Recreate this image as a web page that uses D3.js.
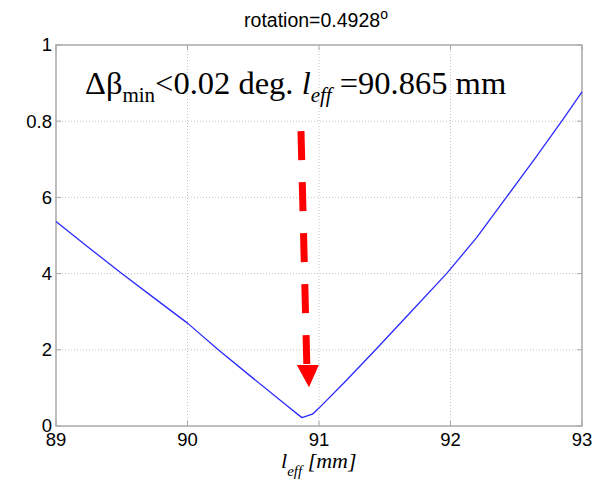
<!doctype html>
<html lang="en">
<head>
<meta charset="utf-8">
<script src="https://cdn.jsdelivr.net/npm/d3@7"></script>
<style>
  body { margin: 0; background: #fff; }
  .grid line { stroke: #c4c4c4; stroke-width: 1; stroke-dasharray: 1,2; }
  .frame { fill: none; stroke: #a8a8a8; stroke-width: 1.5; }
  .tick-lbl { font-family: "Liberation Sans", Arial, sans-serif; font-size: 18.5px; fill: #000; }
</style>
</head>
<body>
<svg width="602" height="480"></svg>
<script>
// l_eff in mm vs. residual (axis 0..1)
const leff = [89.0, 89.25, 89.5, 89.75, 90.0, 90.234, 90.5, 90.75, 90.87, 90.95, 91.0, 91.2, 91.43, 91.7, 91.97, 92.2, 92.42, 92.65, 92.85, 93.0];
const resid = [0.537, 0.468, 0.40, 0.335, 0.27, 0.20, 0.125, 0.055, 0.022, 0.031, 0.047, 0.117, 0.20, 0.30, 0.40, 0.495, 0.598, 0.706, 0.802, 0.877];

const xTicks = [89, 90, 91, 92, 93];
const yTicks = [0, 0.2, 0.4, 0.6, 0.8, 1];
const yTickLabels = ["0", "2", "4", "6", "0.8", "1"];

// arrow annotation (data coordinates)
const arrowX = [90.863, 90.915, 90.924];   // tail, head base, tip
const arrowY = [0.774, 0.16, 0.102];

const margin = {top: 45, left: 56, right: 20, bottom: 54};
const W = 602, H = 480;
const w = W - margin.left - margin.right;
const h = H - margin.top - margin.bottom;

const svg = d3.select("svg");
const g = svg.append("g").attr("transform", `translate(${margin.left},${margin.top})`);

const x = d3.scaleLinear().domain([89, 93]).range([0, w]);
const y = d3.scaleLinear().domain([0, 1]).range([h, 0]);

// grid
const grid = g.append("g").attr("class", "grid");
grid.selectAll(".gx").data(xTicks.slice(1, -1)).enter().append("line")
  .attr("x1", d => x(d)).attr("x2", d => x(d)).attr("y1", 0).attr("y2", h);
grid.selectAll(".gy").data(yTicks.slice(1, -1)).enter().append("line")
  .attr("y1", d => y(d)).attr("y2", d => y(d)).attr("x1", 0).attr("x2", w);

// inward ticks on all four sides
const tk = g.append("g").attr("stroke", "#a8a8a8").attr("stroke-width", 1);
xTicks.forEach(t => {
  tk.append("line").attr("x1", x(t)).attr("x2", x(t)).attr("y1", h).attr("y2", h - 5);
  tk.append("line").attr("x1", x(t)).attr("x2", x(t)).attr("y1", 0).attr("y2", 5);
});
yTicks.forEach(t => {
  tk.append("line").attr("y1", y(t)).attr("y2", y(t)).attr("x1", 0).attr("x2", 5);
  tk.append("line").attr("y1", y(t)).attr("y2", y(t)).attr("x1", w).attr("x2", w - 5);
});

g.append("rect").attr("class", "frame").attr("width", w).attr("height", h);

// tick labels
g.selectAll(".xl").data(xTicks).enter().append("text")
  .attr("class", "tick-lbl").attr("x", d => x(d)).attr("y", h + 20)
  .attr("text-anchor", "middle").text(d => d);
g.selectAll(".yl").data(yTicks).enter().append("text")
  .attr("class", "tick-lbl").attr("x", -4).attr("y", d => y(d))
  .attr("dy", "0.35em").attr("text-anchor", "end").text((d, i) => yTickLabels[i]);

// curve
const pts = leff.map((v, i) => [v, resid[i]]);
g.append("path").datum(pts)
  .attr("fill", "none").attr("stroke", "#2a2aff").attr("stroke-width", 1.3)
  .attr("stroke-linejoin", "round")
  .attr("d", d3.line().x(d => x(d[0])).y(d => y(d[1])));

// red dashed arrow
g.append("line")
  .attr("x1", x(arrowX[0])).attr("y1", y(arrowY[0]))
  .attr("x2", x(arrowX[1]) - 1).attr("y2", y(arrowY[1]))
  .attr("stroke", "#ff0000").attr("stroke-width", 7).attr("stroke-dasharray", "29,22");
const hx = x(arrowX[1]), hy = y(arrowY[1]);
g.append("path")
  .attr("d", `M${hx - 11},${hy} L${hx + 11},${hy} L${x(arrowX[2])},${y(arrowY[2])} Z`)
  .attr("fill", "#ff0000");

// title
const title = svg.append("text")
  .attr("x", 316).attr("y", 27).attr("text-anchor", "middle")
  .attr("font-family", "Liberation Sans, Arial, sans-serif").attr("font-size", 19.5);
title.append("tspan").text("rotation=0.4928");
title.append("tspan").attr("font-size", 14).attr("dy", -8).text("o");

// annotation
const ann = svg.append("text").attr("x", 85).attr("y", 94)
  .attr("font-family", "Liberation Serif, Times New Roman, serif").attr("font-size", 32.5);
ann.append("tspan").text("Δβ");
ann.append("tspan").attr("font-size", 21).attr("dy", 8).text("min");
ann.append("tspan").attr("dy", -8).text("<0.02 deg. ");
ann.append("tspan").attr("font-style", "italic").text("l");
ann.append("tspan").attr("font-style", "italic").attr("font-size", 21).attr("dy", 8).text("eff");
ann.append("tspan").attr("dy", -8).text(" =90.865 mm");

// x label
const xl = svg.append("text").attr("x", 281).attr("y", 468)
  .attr("font-family", "Liberation Serif, Times New Roman, serif").attr("font-size", 22)
  .attr("font-style", "italic");
xl.append("tspan").text("l");
xl.append("tspan").attr("font-size", 15).attr("dy", 8).text("eff");
xl.append("tspan").attr("dy", -8).text(" [mm]");
</script>
</body>
</html>
